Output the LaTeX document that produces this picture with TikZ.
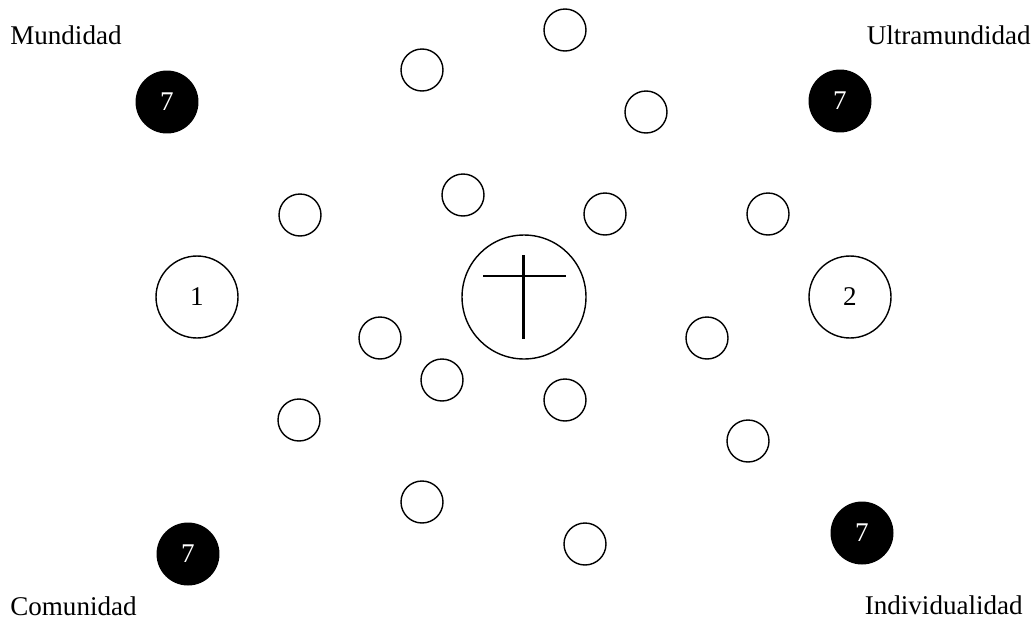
\documentclass[tikz,border=0pt]{standalone}
\usepackage{fontspec}
\setmainfont{Liberation Serif}
\usepackage{tikz}
\usetikzlibrary{positioning, calc}
\tikzset{
    ring/.style={circle, draw=black, line width=0.8pt, minimum size=0.84cm,
                 inner sep=0pt},
    bigring/.style={ring, minimum size=1.64cm,
                    font=\fontsize{15.4}{18}\selectfont},
    seven/.style={circle, fill=black, minimum size=1.26cm, inner sep=0pt,
                  text=white, font=\fontsize{15.4}{18}\selectfont},
    corner/.style={inner sep=0pt, font=\fontsize{15.4}{18}\selectfont},
}

\begin{document}
\begin{tikzpicture}[
    x=0.02cm, y=-0.02cm,
    crossbar/.style={line width=1.7pt},
]
    \useasboundingbox (0,0) rectangle (1034,622);

    % Centre with cross
    \node[ring, minimum size=2.48cm] (centro) at (524,297) {};
    \draw[crossbar] ($(centro)+(-41,-21)$) -- ($(centro)+(42,-21)$);
    \draw[crossbar] ($(centro)+(-1,-42)$) -- ($(centro)+(-1,42)$);

    % Side circles
    \node[bigring] (uno) at (197,297) {1};
    \node[bigring] (dos) at (850,297) {2};

    % Black circles
    \node[seven] (mund) at (167,102) {7};
    \node[seven] (ultra) at (840,101) {7};
    \node[seven] (comun) at (188,554) {7};
    \node[seven] (indiv) at (862,533) {7};

    % Corner labels
    \node[corner, anchor=base west] (lmund) at (10,44) {Mundidad};
    \node[corner, anchor=base east] (lultra) at (1031,44) {Ultramundidad};
    \node[corner, anchor=base west] (lcomun) at (10,615) {Comunidad};
    \node[corner, anchor=base east] (lindiv) at (1023,614) {Individualidad};

    % Small circles
    \node[ring] (s1) at (565,30) {};
    \node[ring] (s2) at (422,70) {};
    \node[ring] (s3) at (646,112) {};
    \node[ring] (s4) at (463,195) {};
    \node[ring] (s5) at (300,215) {};
    \node[ring] (s6) at (605,214) {};
    \node[ring] (s7) at (768,214) {};
    \node[ring] (s8) at (380,338) {};
    \node[ring] (s9) at (707,338) {};
    \node[ring] (s10) at (442,380) {};
    \node[ring] (s11) at (565,400) {};
    \node[ring] (s12) at (299,420) {};
    \node[ring] (s13) at (748,441) {};
    \node[ring] (s14) at (422,502) {};
    \node[ring] (s15) at (585,544) {};
\end{tikzpicture}
\end{document}
